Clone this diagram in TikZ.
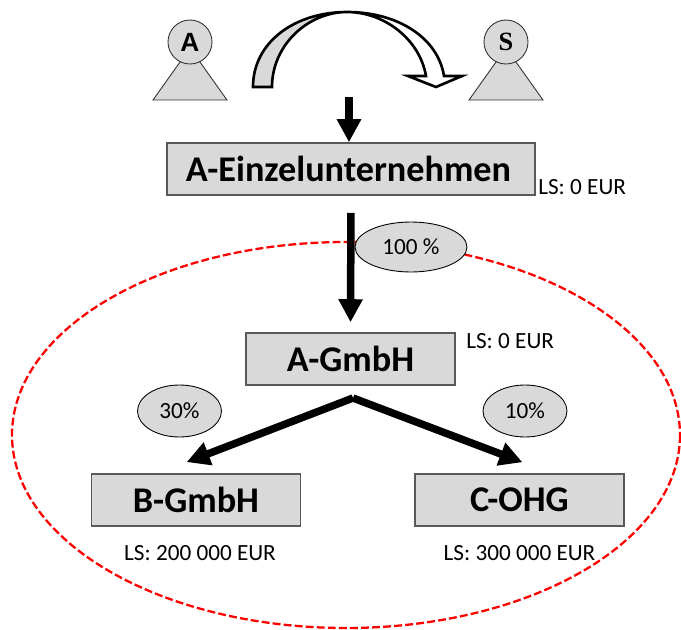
\documentclass[tikz,border=0pt]{standalone}
\usepackage{fontspec}
\setmainfont{Carlito}
\newfontfamily\personsans{Liberation Sans}
\newfontfamily\personserif{Liberation Serif}
\usetikzlibrary{arrows.meta,shapes.geometric}
\definecolor{boxgray}{gray}{0.85}
\begin{document}
\begin{tikzpicture}[x=0.02cm,y=-0.02cm,
  firma/.style={shape=rectangle,draw=black!65,line width=0.9pt,fill=boxgray,inner sep=0pt,minimum height=1.04cm,font=\bfseries\fontsize{20.6}{22}\selectfont},
  anteil/.style={shape=ellipse,draw=black,line width=0.5pt,fill=boxgray,inner sep=0pt,font=\fontsize{13.2}{15}\selectfont},
  verlust/.style={inner sep=0pt,font=\fontsize{13.2}{15}\selectfont},
  person/.style={shape=circle,draw=black!80,line width=0.5pt,fill=boxgray,inner sep=0pt,minimum size=0.88cm},
  fatarrow/.style={-{Triangle[length=0.46cm,width=0.46cm]},line width=0.15cm}]
\useasboundingbox (0,0) rectangle (681,630);
\draw [red,line width=1.3pt,dash pattern=on 4.5pt off 1.8pt] (346,435) ellipse [x radius=334,y radius=193];
\fill [boxgray,draw=black!80,line width=0.5pt] (153,100) -- (190,48) -- (227,100) -- cycle;
\fill [boxgray,draw=black!80,line width=0.5pt] (469,100) -- (506,48) -- (543,100) -- cycle;
\node (persona) at (190,42) [person] {\personsans\bfseries\fontsize{15}{17}\selectfont A};
\node (persons) at (506,42) [person] {\personserif\bfseries\fontsize{15}{17}\selectfont S};
\draw [fill=boxgray,line width=1.5pt,line join=miter] (253,87) .. controls (253,42) and (295,12) .. (347,12) .. controls (308,12) and (272,45) .. (272,87) -- cycle;
\draw [fill=white,line width=1.5pt,line join=miter] (347,12) .. controls (398,12) and (438,38) .. (444,76) -- (462,76) -- (436,87) -- (408,76) -- (426,76) .. controls (420,40) and (385,12) .. (347,12) -- cycle;
\node (einzel) at (351,169) [firma,minimum width=7.36cm] {\hspace*{-0.1cm}A-Einzelunternehmen};
\node (agmbh) at (350.5,359) [firma,minimum width=4.18cm] {A-GmbH};
\node (bgmbh) at (196,500) [firma,minimum width=4.18cm] {B-GmbH};
\node (cohg) at (519.5,500) [firma,minimum width=4.18cm] {C-OHG};
\node (prozenta) at (411,247) [anteil,minimum width=2.24cm,minimum height=1cm] {100 \%};
\node (prozentb) at (179.5,411) [anteil,minimum width=1.68cm,minimum height=1.04cm] {30\%};
\node (prozentc) at (525,411) [anteil,minimum width=1.68cm,minimum height=1.04cm] {10\%};
\node (lseinzel) at (538,187) [verlust,anchor=west] {LS: 0 EUR};
\node (lsagmbh) at (466,341) [verlust,anchor=west] {LS: 0 EUR};
\node (lsbgmbh) at (200,553) [verlust] {LS: 200 000 EUR};
\node (lscohg) at (519.5,553) [verlust] {LS: 300 000 EUR};
\coordinate (start) at (349,97);
\coordinate (fork) at (353,398);
\draw [fatarrow] (start) -- (einzel.north -| start);
\draw [fatarrow,shorten <=0.34cm,shorten >=0.2cm] (einzel.south) -- (agmbh.north);
\draw [fatarrow,shorten >=0.62cm] (fork) -- (bgmbh.145);
\draw [fatarrow,shorten >=0.62cm] (fork) -- (cohg.40);
\end{tikzpicture}
\end{document}
